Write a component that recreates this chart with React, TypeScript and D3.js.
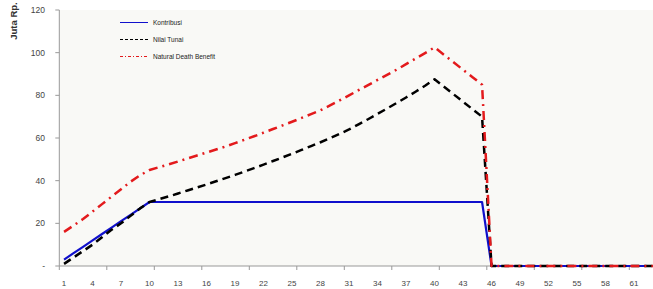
import React, { useEffect, useRef } from "react";
import * as d3 from "d3";

// tahun ke- (kategori sumbu X)
const years = [
  1, 2, 3, 4, 5, 6, 7, 8, 9, 10, 11, 12, 13, 14, 15, 16, 17, 18, 19, 20, 21,
  22, 23, 24, 25, 26, 27, 28, 29, 30, 31, 32, 33, 34, 35, 36, 37, 38, 39, 40,
  41, 42, 43, 44, 45, 46, 47, 48, 49, 50, 51, 52, 53, 54, 55, 56, 57, 58, 59,
  60, 61, 62, 63,
];

// Juta Rp.
const kontribusi = [
  3, 6, 9, 12, 15, 18, 21, 24, 27, 30, 30, 30, 30, 30, 30, 30, 30, 30, 30, 30,
  30, 30, 30, 30, 30, 30, 30, 30, 30, 30, 30, 30, 30, 30, 30, 30, 30, 30, 30,
  30, 30, 30, 30, 30, 30, 0, 0, 0, 0, 0, 0, 0, 0, 0, 0, 0, 0, 0, 0, 0, 0, 0, 0,
];

const nilaiTunai = [
  1, 4, 7, 10, 13.5, 17, 20, 23.5, 27, 30, 31.3, 32.6, 34, 35.4, 36.8, 38.2,
  39.7, 41.2, 42.7, 44.3, 45.9, 47.5, 49.2, 50.9, 52.6, 54.4, 56.2, 58, 59.9,
  61.9, 64, 66.4, 68.8, 71.3, 73.8, 76.4, 79, 81.7, 84.5, 87.5, 84, 80.5, 77,
  73.5, 70, 0, 0, 0, 0, 0, 0, 0, 0, 0, 0, 0, 0, 0, 0, 0, 0, 0, 0,
];

const deathBenefit = [
  16, 19, 22, 25.5, 29, 32.5, 36, 39.5, 42.5, 45, 46.3, 47.6, 49, 50.4, 51.8,
  53.2, 54.6, 56, 57.6, 59.2, 60.8, 62.5, 64.2, 65.9, 67.6, 69.4, 71.2, 73,
  75.3, 77.6, 80, 82.4, 84.8, 87.2, 89.6, 92, 94.6, 97.2, 99.8, 102.5, 99, 95.5,
  92, 88.5, 85, 0, 0, 0, 0, 0, 0, 0, 0, 0, 0, 0, 0, 0, 0, 0, 0, 0, 0,
];

const yTicks = [0, 20, 40, 60, 80, 100, 120];
const xLabels = [1, 4, 7, 10, 13, 16, 19, 22, 25, 28, 31, 34, 37, 40, 43, 46, 49, 52, 55, 58, 61];
const xTickMarks = [0.5, 5.5, 10.5, 15.5, 20.5, 25.5, 30.5, 35.5, 40.5, 45.5, 50.5, 55.5, 60.5];

const series = [
  { name: "Kontribusi", values: kontribusi, color: "#1010cc", width: 2.2, dash: null, legendDash: null },
  { name: "Nilai Tunai", values: nilaiTunai, color: "#000000", width: 2.5, dash: "8,5", legendDash: "3,2" },
  { name: "Natural Death Benefit", values: deathBenefit, color: "#e31a1c", width: 2.5, dash: "9,5,2,5", legendDash: "3,2,1,2" },
];

const width = 653;
const height = 289;

const drawChart = (svgEl: SVGSVGElement) => {
  const svg = d3.select(svgEl);
  svg.selectAll("*").remove();

  const left = 59.3;
  const catW = 9.5;
  const top = 10;
  const bottom = 266;
  const font = "'Liberation Sans', Arial, sans-serif";

  const x = d3
    .scaleLinear()
    .domain([0.5, years.length + 0.5])
    .range([left, left + years.length * catW]);
  const y = d3.scaleLinear().domain([0, 120]).range([bottom, top]);

  // plot area background
  svg
    .append("rect")
    .attr("x", left)
    .attr("y", top)
    .attr("width", width - left)
    .attr("height", bottom - top)
    .attr("fill", "#f9f9f6");

  // y axis
  svg
    .append("line")
    .attr("x1", left)
    .attr("x2", left)
    .attr("y1", top)
    .attr("y2", bottom)
    .attr("stroke", "#999");

  svg
    .selectAll("line.ytick")
    .data(yTicks)
    .enter()
    .append("line")
    .attr("class", "ytick")
    .attr("x1", left - 4)
    .attr("x2", left)
    .attr("y1", (d) => y(d))
    .attr("y2", (d) => y(d))
    .attr("stroke", "#999");

  svg
    .selectAll("text.ylab")
    .data(yTicks)
    .enter()
    .append("text")
    .attr("class", "ylab")
    .attr("x", 45)
    .attr("y", (d) => y(d) + 3)
    .attr("text-anchor", "end")
    .style("font-family", font)
    .style("font-size", "8.5px")
    .attr("fill", "#444")
    .text((d) => (d === 0 ? "-" : String(d)));

  // x axis
  svg
    .append("line")
    .attr("x1", left)
    .attr("x2", width)
    .attr("y1", bottom)
    .attr("y2", bottom)
    .attr("stroke", "#999");

  svg
    .selectAll("line.xtick")
    .data(xTickMarks)
    .enter()
    .append("line")
    .attr("class", "xtick")
    .attr("x1", (d) => x(d))
    .attr("x2", (d) => x(d))
    .attr("y1", bottom)
    .attr("y2", bottom + 4)
    .attr("stroke", "#999");

  svg
    .selectAll("text.xlab")
    .data(xLabels)
    .enter()
    .append("text")
    .attr("class", "xlab")
    .attr("x", (d) => x(d))
    .attr("y", 286)
    .attr("text-anchor", "middle")
    .style("font-family", font)
    .style("font-size", "8px")
    .attr("fill", "#444")
    .text((d) => String(d));

  // y axis title
  svg
    .append("text")
    .attr("transform", "translate(17, 21) rotate(-90)")
    .attr("text-anchor", "middle")
    .style("font-family", font)
    .style("font-size", "9.5px")
    .style("font-weight", "bold")
    .attr("fill", "#333")
    .text("Juta Rp.");

  // lines
  const line = d3
    .line<number>()
    .x((_, i) => x(years[i]))
    .y((d) => y(d));

  series.forEach((s) => {
    svg
      .append("path")
      .datum(s.values)
      .attr("d", line)
      .attr("fill", "none")
      .attr("stroke", s.color)
      .attr("stroke-width", s.width)
      .attr("stroke-dasharray", s.dash)
      .attr("stroke-linejoin", "round");
  });

  // legend
  const legend = svg.append("g").attr("transform", "translate(120, 22.5)");
  series.forEach((s, i) => {
    const g = legend.append("g").attr("transform", `translate(0, ${i * 17})`);
    g.append("line")
      .attr("x1", 0)
      .attr("x2", 28)
      .attr("stroke", s.color)
      .attr("stroke-width", 1)
      .attr("stroke-dasharray", s.legendDash);
    g.append("text")
      .attr("x", 33)
      .attr("y", 2.5)
      .style("font-family", font)
      .style("font-size", "6.5px")
      .attr("fill", "#222")
      .text(s.name);
  });
};

const App = () => {
  const svgRef = useRef<SVGSVGElement>(null);

  useEffect(() => {
    if (svgRef.current) drawChart(svgRef.current);
  }, []);

  return (
    <svg
      ref={svgRef}
      width={width}
      height={height}
      style={{ position: "absolute", left: 0, top: 0, background: "#fff" }}
    ></svg>
  );
};

export default App;
